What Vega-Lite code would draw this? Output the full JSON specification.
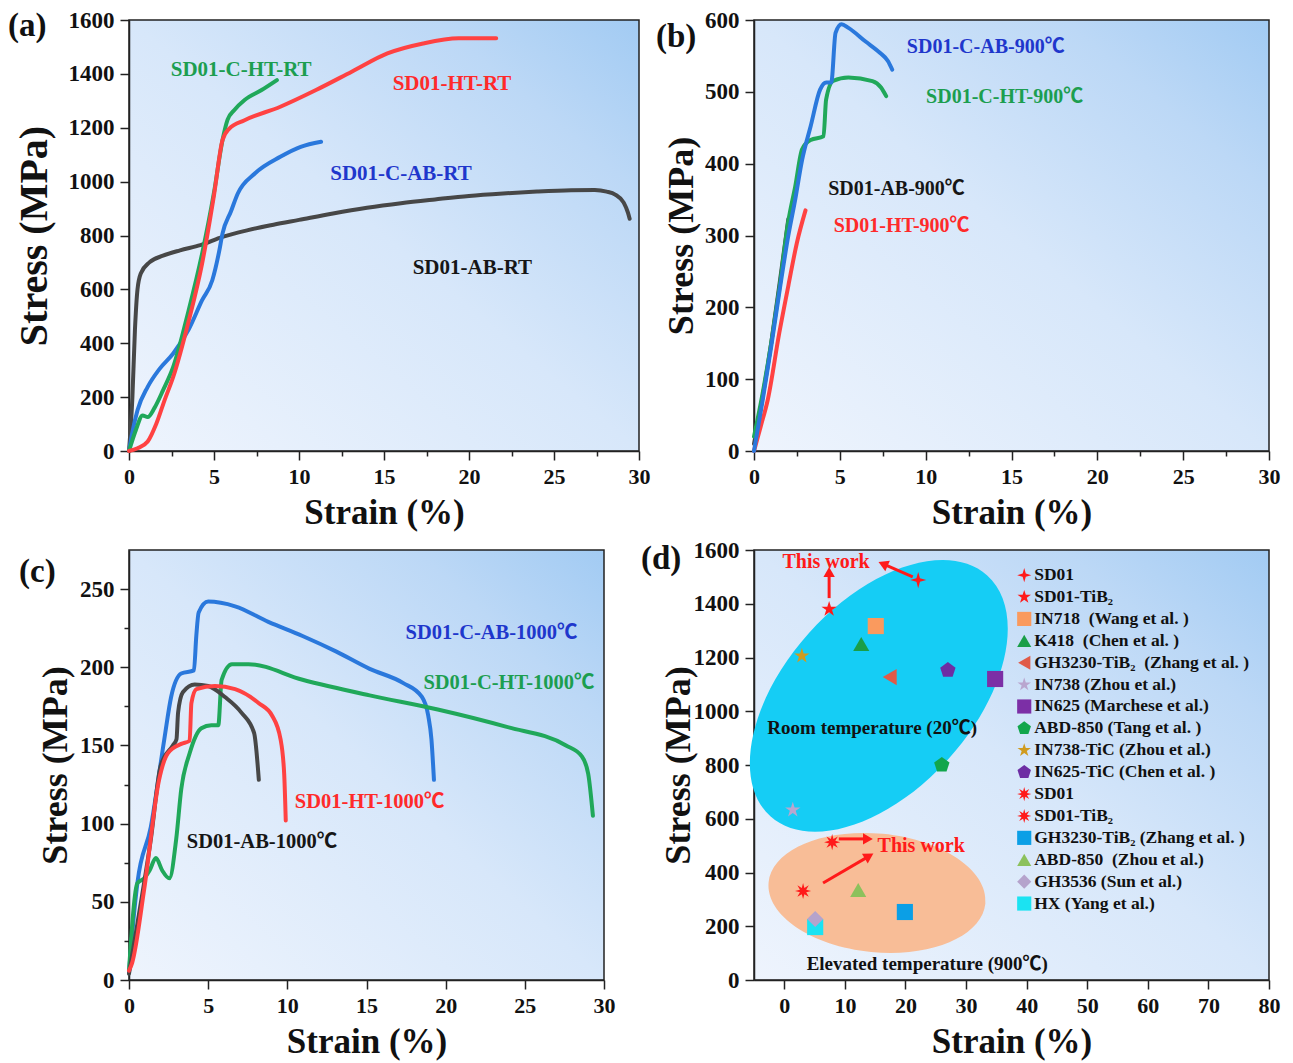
{
  "$schema": "https://vega.github.io/schema/vega-lite/v6.json",
  "padding": {"left": 7, "top": 8, "right": 5, "bottom": 5},
  "background": "white",
  "columns": 2,
  "bounds": "flush",
  "spacing": {"row": 99, "column": 115},
  "datasets": {
    "arrows": [
      {"id": 1, "strain": 7.4, "stress": 1421, "strain2": 7.4, "stress2": 1518},
      {"id": 2, "strain": 21.2, "stress": 1500, "strain2": 16.3, "stress2": 1548},
      {"id": 3, "strain": 9.0, "stress": 525, "strain2": 13.8, "stress2": 525},
      {"id": 4, "strain": 6.4, "stress": 361, "strain2": 14.0, "stress2": 461}
    ],
    "materials": [
      {"m": "SD01", "strain": 22.1, "stress": 1488},
      {"m": "SD01-TiB₂", "strain": 7.4, "stress": 1380},
      {"m": "IN718\u00a0\u00a0(Wang et al. )", "strain": 15.1, "stress": 1317},
      {"m": "K418\u00a0\u00a0(Chen et al. )", "strain": 12.7, "stress": 1250},
      {"m": "GH3230-TiB₂\u00a0\u00a0(Zhang et al. )", "strain": 17.4, "stress": 1127},
      {"m": "IN738 (Zhou et al.)", "strain": 1.4, "stress": 633},
      {"m": "IN625 (Marchese et al.)", "strain": 34.8, "stress": 1120},
      {"m": "ABD-850 (Tang et al. )", "strain": 26.0, "stress": 800},
      {"m": "IN738-TiC (Zhou et al.)", "strain": 2.9, "stress": 1206},
      {"m": "IN625-TiC (Chen et al. )", "strain": 27.0, "stress": 1153},
      {"m": "SD01 ", "strain": 7.9, "stress": 513},
      {"m": "SD01-TiB₂ ", "strain": 3.1, "stress": 331},
      {"m": "GH3230-TiB₂ (Zhang et al. )", "strain": 19.9, "stress": 253},
      {"m": "ABD-850\u00a0\u00a0(Zhou et al.)", "strain": 12.2, "stress": 335},
      {"m": "HX (Yang et al.)", "strain": 5.1, "stress": 197},
      {"m": "GH3536 (Sun et al.)", "strain": 5.1, "stress": 227}
    ]
  },
  "config": {
    "font": "Liberation Serif",
    "view": {"stroke": "#222", "strokeWidth": 1.5},
    "axis": {
      "labelFont": "Liberation Serif", "labelFontSize": 22, "labelFontWeight": "bold", "labelColor": "#111",
      "titleFont": "Liberation Serif", "titleFontSize": 35, "titleFontWeight": "bold", "titleColor": "#111",
      "domainColor": "#222", "domainWidth": 1.5, "tickColor": "#222", "tickWidth": 1.5,
      "grid": false, "labelFlush": false, "labelOverlap": false, "labelPadding": 6
    },
    "axisX": {"titlePadding": 8},
    "axisY": {"titlePadding": 8, "labelFontSize": 23, "titleFontSize": 36},
    "text": {"font": "Liberation Serif, Noto Sans CJK SC", "fontWeight": "bold"}
  },
  "concat": [
    {
      "width": 510, "height": 431,
      "view": {"stroke": "#222", "strokeWidth": 1.5, "fill": {"gradient": "linear", "x1": 0, "y1": 1, "x2": 1, "y2": 0, "stops": [{"offset": 0, "color": "#eef4fd"}, {"offset": 0.5, "color": "#d7e7fa"}, {"offset": 0.8, "color": "#bcd8f6"}, {"offset": 1, "color": "#a2cbf3"}]}},
      "resolve": {"scale": {"color": "independent"}},
      "layer": [
        {
          "data": {"values": [
            {"series": "AB", "strain": 0, "stress": 0}, {"series": "AB", "strain": 0.2, "stress": 200}, {"series": "AB", "strain": 0.35, "stress": 450}, {"series": "AB", "strain": 0.5, "stress": 600}, {"series": "AB", "strain": 0.7, "stress": 660}, {"series": "AB", "strain": 1.2, "stress": 700}, {"series": "AB", "strain": 2, "stress": 725}, {"series": "AB", "strain": 3, "stress": 745}, {"series": "AB", "strain": 4.2, "stress": 764}, {"series": "AB", "strain": 5.5, "stress": 795}, {"series": "AB", "strain": 7, "stress": 820}, {"series": "AB", "strain": 8.5, "stress": 840}, {"series": "AB", "strain": 10, "stress": 858}, {"series": "AB", "strain": 12, "stress": 882}, {"series": "AB", "strain": 14, "stress": 903}, {"series": "AB", "strain": 16, "stress": 920}, {"series": "AB", "strain": 18, "stress": 934}, {"series": "AB", "strain": 20, "stress": 947}, {"series": "AB", "strain": 22, "stress": 956}, {"series": "AB", "strain": 24, "stress": 963}, {"series": "AB", "strain": 26, "stress": 968}, {"series": "AB", "strain": 27.4, "stress": 969}, {"series": "AB", "strain": 28.1, "stress": 963}, {"series": "AB", "strain": 28.6, "stress": 952}, {"series": "AB", "strain": 29.1, "stress": 922}, {"series": "AB", "strain": 29.35, "stress": 885}, {"series": "AB", "strain": 29.45, "stress": 862},
            {"series": "CAB", "strain": 0, "stress": 0}, {"series": "CAB", "strain": 0.2, "stress": 70}, {"series": "CAB", "strain": 0.5, "stress": 151}, {"series": "CAB", "strain": 1.1, "stress": 238}, {"series": "CAB", "strain": 1.8, "stress": 305}, {"series": "CAB", "strain": 2.6, "stress": 362}, {"series": "CAB", "strain": 3.5, "stress": 450}, {"series": "CAB", "strain": 4.3, "stress": 560}, {"series": "CAB", "strain": 4.9, "stress": 634}, {"series": "CAB", "strain": 5.3, "stress": 740}, {"series": "CAB", "strain": 5.5, "stress": 807}, {"series": "CAB", "strain": 6, "stress": 890}, {"series": "CAB", "strain": 6.4, "stress": 956}, {"series": "CAB", "strain": 7.4, "stress": 1030}, {"series": "CAB", "strain": 8.9, "stress": 1092}, {"series": "CAB", "strain": 10.1, "stress": 1129}, {"series": "CAB", "strain": 11.3, "stress": 1148},
            {"series": "CHT", "strain": 0, "stress": 0}, {"series": "CHT", "strain": 0.4, "stress": 77}, {"series": "CHT", "strain": 0.8, "stress": 132}, {"series": "CHT", "strain": 1.1, "stress": 126}, {"series": "CHT", "strain": 1.5, "stress": 160}, {"series": "CHT", "strain": 2, "stress": 225}, {"series": "CHT", "strain": 2.6, "stress": 312}, {"series": "CHT", "strain": 3.5, "stress": 520}, {"series": "CHT", "strain": 4.3, "stress": 733}, {"series": "CHT", "strain": 5, "stress": 960}, {"series": "CHT", "strain": 5.5, "stress": 1154}, {"series": "CHT", "strain": 5.8, "stress": 1230}, {"series": "CHT", "strain": 6.2, "stress": 1266}, {"series": "CHT", "strain": 6.8, "stress": 1303}, {"series": "CHT", "strain": 7.8, "stress": 1340}, {"series": "CHT", "strain": 8.7, "stress": 1377},
            {"series": "HT", "strain": 0, "stress": 0}, {"series": "HT", "strain": 0.5, "stress": 10}, {"series": "HT", "strain": 1.1, "stress": 35}, {"series": "HT", "strain": 1.6, "stress": 100}, {"series": "HT", "strain": 2.1, "stress": 190}, {"series": "HT", "strain": 2.6, "stress": 275}, {"series": "HT", "strain": 3.5, "stress": 480}, {"series": "HT", "strain": 4.3, "stress": 696}, {"series": "HT", "strain": 5, "stress": 950}, {"series": "HT", "strain": 5.5, "stress": 1154}, {"series": "HT", "strain": 5.9, "stress": 1197}, {"series": "HT", "strain": 6.8, "stress": 1228}, {"series": "HT", "strain": 8.9, "stress": 1278}, {"series": "HT", "strain": 11, "stress": 1340}, {"series": "HT", "strain": 13.1, "stress": 1408}, {"series": "HT", "strain": 15.2, "stress": 1476}, {"series": "HT", "strain": 17.3, "stress": 1513}, {"series": "HT", "strain": 19.4, "stress": 1532}, {"series": "HT", "strain": 21.6, "stress": 1532}
          ]},
          "mark": {"type": "line", "strokeWidth": 4, "strokeJoin": "round", "strokeCap": "round", "interpolate": "monotone"},
          "encoding": {
            "x": {"field": "strain", "type": "quantitative", "scale": {"domain": [0, 30], "nice": false, "zero": false},
                  "axis": {"title": "Strain (%)", "format": "d", "values": [0, 2.5, 5, 7.5, 10, 12.5, 15, 17.5, 20, 22.5, 25, 27.5, 30], "labelExpr": "datum.value % 5 === 0 ? datum.label : ''", "tickSize": {"condition": {"test": "datum.value % 5 === 0", "value": 9}, "value": 5}}},
            "y": {"field": "stress", "type": "quantitative", "scale": {"domain": [0, 1600], "nice": false},
                  "axis": {"title": "Stress (MPa)", "titleFontSize": 40, "titlePadding": 14, "format": "d", "values": [0, 100, 200, 300, 400, 500, 600, 700, 800, 900, 1000, 1100, 1200, 1300, 1400, 1500, 1600], "labelExpr": "datum.value % 200 === 0 ? datum.label : ''", "tickSize": {"condition": {"test": "datum.value % 200 === 0", "value": 9}, "value": 5}}},
            "color": {"field": "series", "type": "nominal", "legend": null, "scale": {"domain": ["AB", "CAB", "CHT", "HT"], "range": ["#474747", "#2a78dc", "#20a85a", "#ff4242"]}}
          }
        },
        {
          "data": {"values": [
            {"series": "CHT", "label": "SD01-C-HT-RT", "strain": 6.6, "stress": 1414},
            {"series": "HT", "label": "SD01-HT-RT", "strain": 19.0, "stress": 1362},
            {"series": "CAB", "label": "SD01-C-AB-RT", "strain": 16.0, "stress": 1028},
            {"series": "AB", "label": "SD01-AB-RT", "strain": 20.2, "stress": 679}
          ]},
          "mark": {"type": "text", "fontSize": 21, "fontWeight": "bold", "align": "center", "baseline": "middle"},
          "encoding": {
            "x": {"field": "strain", "type": "quantitative"},
            "y": {"field": "stress", "type": "quantitative"},
            "text": {"field": "label"},
            "color": {"field": "series", "type": "nominal", "legend": null, "scale": {"domain": ["AB", "CAB", "CHT", "HT"], "range": ["#161616", "#1f37cc", "#1c9e50", "#ff2a2a"]}}
          }
        },
        {
          "data": {"values": [{"label": "(a)"}]},
          "mark": {"type": "text", "fontSize": 33, "fontWeight": "bold", "align": "left", "baseline": "middle", "dx": -121, "dy": 6, "color": "#111"},
          "encoding": {"x": {"datum": 0, "type": "quantitative"}, "y": {"datum": 1600, "type": "quantitative"}, "text": {"field": "label"}}
        }
      ]
    },
    {
      "width": 515, "height": 431,
      "view": {"stroke": "#222", "strokeWidth": 1.5, "fill": {"gradient": "linear", "x1": 0, "y1": 1, "x2": 1, "y2": 0, "stops": [{"offset": 0, "color": "#eef4fd"}, {"offset": 0.5, "color": "#d7e7fa"}, {"offset": 0.8, "color": "#bcd8f6"}, {"offset": 1, "color": "#a2cbf3"}]}},
      "resolve": {"scale": {"color": "independent"}},
      "layer": [
        {
          "data": {"values": [
            {"series": "AB", "strain": 0, "stress": 10}, {"series": "AB", "strain": 0.5, "stress": 75}, {"series": "AB", "strain": 1, "stress": 150}, {"series": "AB", "strain": 1.5, "stress": 235}, {"series": "AB", "strain": 2.0, "stress": 323},
            {"series": "HT", "strain": 0, "stress": 0}, {"series": "HT", "strain": 0.4, "stress": 35}, {"series": "HT", "strain": 0.8, "stress": 71}, {"series": "HT", "strain": 1.47, "stress": 164}, {"series": "HT", "strain": 2, "stress": 230}, {"series": "HT", "strain": 2.5, "stress": 290}, {"series": "HT", "strain": 3.0, "stress": 335},
            {"series": "CHT", "strain": 0, "stress": 20}, {"series": "CHT", "strain": 0.5, "stress": 80}, {"series": "CHT", "strain": 1, "stress": 150}, {"series": "CHT", "strain": 1.5, "stress": 230}, {"series": "CHT", "strain": 2, "stress": 320}, {"series": "CHT", "strain": 2.4, "stress": 368}, {"series": "CHT", "strain": 2.8, "stress": 420}, {"series": "CHT", "strain": 3.3, "stress": 433}, {"series": "CHT", "strain": 4.05, "stress": 438}, {"series": "CHT", "strain": 4.2, "stress": 489}, {"series": "CHT", "strain": 4.6, "stress": 515}, {"series": "CHT", "strain": 5.5, "stress": 520}, {"series": "CHT", "strain": 6.9, "stress": 515}, {"series": "CHT", "strain": 7.4, "stress": 506}, {"series": "CHT", "strain": 7.7, "stress": 494},
            {"series": "CAB", "strain": 0, "stress": 0}, {"series": "CAB", "strain": 0.5, "stress": 70}, {"series": "CAB", "strain": 1, "stress": 145}, {"series": "CAB", "strain": 1.5, "stress": 225}, {"series": "CAB", "strain": 2, "stress": 300}, {"series": "CAB", "strain": 2.4, "stress": 350}, {"series": "CAB", "strain": 2.8, "stress": 405}, {"series": "CAB", "strain": 3.3, "stress": 452}, {"series": "CAB", "strain": 3.85, "stress": 503}, {"series": "CAB", "strain": 4.2, "stress": 513}, {"series": "CAB", "strain": 4.5, "stress": 513}, {"series": "CAB", "strain": 4.75, "stress": 582}, {"series": "CAB", "strain": 5.1, "stress": 594}, {"series": "CAB", "strain": 5.5, "stress": 589}, {"series": "CAB", "strain": 6.5, "stress": 570}, {"series": "CAB", "strain": 7.35, "stress": 554}, {"series": "CAB", "strain": 7.8, "stress": 543}, {"series": "CAB", "strain": 8.05, "stress": 531}
          ]},
          "mark": {"type": "line", "strokeWidth": 4, "strokeJoin": "round", "strokeCap": "round", "interpolate": "monotone"},
          "encoding": {
            "x": {"field": "strain", "type": "quantitative", "scale": {"domain": [0, 30], "nice": false, "zero": false},
                  "axis": {"title": "Strain (%)", "format": "d", "values": [0, 2.5, 5, 7.5, 10, 12.5, 15, 17.5, 20, 22.5, 25, 27.5, 30], "labelExpr": "datum.value % 5 === 0 ? datum.label : ''", "tickSize": {"condition": {"test": "datum.value % 5 === 0", "value": 9}, "value": 5}}},
            "y": {"field": "stress", "type": "quantitative", "scale": {"domain": [0, 600], "nice": false},
                  "axis": {"title": "Stress (MPa)", "titlePadding": 4, "format": "d", "values": [0, 50, 100, 150, 200, 250, 300, 350, 400, 450, 500, 550, 600], "labelExpr": "datum.value % 100 === 0 ? datum.label : ''", "tickSize": {"condition": {"test": "datum.value % 100 === 0", "value": 9}, "value": 5}}},
            "color": {"field": "series", "type": "nominal", "legend": null, "scale": {"domain": ["AB", "CAB", "CHT", "HT"], "range": ["#474747", "#2a78dc", "#20a85a", "#ff4242"]}}
          }
        },
        {
          "data": {"values": [
            {"series": "CAB", "label": "SD01-C-AB-900℃", "strain": 13.5, "stress": 562},
            {"series": "CHT", "label": "SD01-C-HT-900℃", "strain": 14.6, "stress": 493},
            {"series": "AB", "label": "SD01-AB-900℃", "strain": 8.3, "stress": 365},
            {"series": "HT", "label": "SD01-HT-900℃", "strain": 8.6, "stress": 313}
          ]},
          "mark": {"type": "text", "fontSize": 20, "fontWeight": "bold", "align": "center", "baseline": "middle"},
          "encoding": {
            "x": {"field": "strain", "type": "quantitative"},
            "y": {"field": "stress", "type": "quantitative"},
            "text": {"field": "label"},
            "color": {"field": "series", "type": "nominal", "legend": null, "scale": {"domain": ["AB", "CAB", "CHT", "HT"], "range": ["#161616", "#1f37cc", "#1c9e50", "#ff2a2a"]}}
          }
        },
        {
          "data": {"values": [{"label": "(b)"}]},
          "mark": {"type": "text", "fontSize": 33, "fontWeight": "bold", "align": "left", "baseline": "middle", "dx": -98, "dy": 17, "color": "#111"},
          "encoding": {"x": {"datum": 0, "type": "quantitative"}, "y": {"datum": 600, "type": "quantitative"}, "text": {"field": "label"}}
        }
      ]
    },
    {
      "width": 475, "height": 430,
      "view": {"stroke": "#222", "strokeWidth": 1.5, "fill": {"gradient": "linear", "x1": 0, "y1": 1, "x2": 1, "y2": 0, "stops": [{"offset": 0, "color": "#eef4fd"}, {"offset": 0.5, "color": "#d7e7fa"}, {"offset": 0.8, "color": "#bcd8f6"}, {"offset": 1, "color": "#a2cbf3"}]}},
      "resolve": {"scale": {"color": "independent"}},
      "layer": [
        {
          "data": {"values": [
            {"series": "CAB", "strain": 0, "stress": 5}, {"series": "CAB", "strain": 0.25, "stress": 35}, {"series": "CAB", "strain": 0.53, "stress": 62}, {"series": "CAB", "strain": 1.38, "stress": 98}, {"series": "CAB", "strain": 2.23, "stress": 154}, {"series": "CAB", "strain": 2.66, "stress": 181}, {"series": "CAB", "strain": 3.3, "stress": 196}, {"series": "CAB", "strain": 4.1, "stress": 198}, {"series": "CAB", "strain": 4.25, "stress": 220}, {"series": "CAB", "strain": 4.4, "stress": 235}, {"series": "CAB", "strain": 5.0, "stress": 242}, {"series": "CAB", "strain": 6.7, "stress": 239}, {"series": "CAB", "strain": 8.8, "stress": 229}, {"series": "CAB", "strain": 10.96, "stress": 220}, {"series": "CAB", "strain": 13.1, "stress": 210}, {"series": "CAB", "strain": 15.2, "stress": 199}, {"series": "CAB", "strain": 17.3, "stress": 190}, {"series": "CAB", "strain": 18.5, "stress": 181}, {"series": "CAB", "strain": 18.9, "stress": 169}, {"series": "CAB", "strain": 19.1, "stress": 154}, {"series": "CAB", "strain": 19.26, "stress": 128},
            {"series": "CHT", "strain": 0, "stress": 6}, {"series": "CHT", "strain": 0.53, "stress": 62}, {"series": "CHT", "strain": 0.96, "stress": 65}, {"series": "CHT", "strain": 1.3, "stress": 70}, {"series": "CHT", "strain": 1.7, "stress": 78}, {"series": "CHT", "strain": 2.1, "stress": 70}, {"series": "CHT", "strain": 2.55, "stress": 65}, {"series": "CHT", "strain": 2.98, "stress": 90}, {"series": "CHT", "strain": 3.3, "stress": 122}, {"series": "CHT", "strain": 3.83, "stress": 145}, {"series": "CHT", "strain": 4.57, "stress": 161}, {"series": "CHT", "strain": 5.2, "stress": 163}, {"series": "CHT", "strain": 5.64, "stress": 163}, {"series": "CHT", "strain": 5.85, "stress": 192}, {"series": "CHT", "strain": 6.5, "stress": 202}, {"series": "CHT", "strain": 7.55, "stress": 202}, {"series": "CHT", "strain": 10.96, "stress": 192}, {"series": "CHT", "strain": 15.2, "stress": 182}, {"series": "CHT", "strain": 19.5, "stress": 173}, {"series": "CHT", "strain": 23.8, "stress": 162}, {"series": "CHT", "strain": 27.6, "stress": 150}, {"series": "CHT", "strain": 28.6, "stress": 143}, {"series": "CHT", "strain": 29.0, "stress": 132}, {"series": "CHT", "strain": 29.3, "stress": 105},
            {"series": "AB", "strain": 0, "stress": 4}, {"series": "AB", "strain": 0.53, "stress": 36}, {"series": "AB", "strain": 1.38, "stress": 90}, {"series": "AB", "strain": 2.0, "stress": 137}, {"series": "AB", "strain": 2.77, "stress": 150}, {"series": "AB", "strain": 3.0, "stress": 154}, {"series": "AB", "strain": 3.1, "stress": 171}, {"series": "AB", "strain": 3.4, "stress": 184}, {"series": "AB", "strain": 4.15, "stress": 189}, {"series": "AB", "strain": 5.0, "stress": 188}, {"series": "AB", "strain": 6.06, "stress": 181}, {"series": "AB", "strain": 7.1, "stress": 171}, {"series": "AB", "strain": 7.9, "stress": 158}, {"series": "AB", "strain": 8.2, "stress": 128},
            {"series": "HT", "strain": 0, "stress": 6}, {"series": "HT", "strain": 0.2, "stress": 11}, {"series": "HT", "strain": 0.96, "stress": 58}, {"series": "HT", "strain": 1.9, "stress": 128}, {"series": "HT", "strain": 2.45, "stress": 145}, {"series": "HT", "strain": 3.3, "stress": 151}, {"series": "HT", "strain": 3.83, "stress": 153}, {"series": "HT", "strain": 3.94, "stress": 177}, {"series": "HT", "strain": 4.26, "stress": 186}, {"series": "HT", "strain": 5.43, "stress": 188}, {"series": "HT", "strain": 6.7, "stress": 186}, {"series": "HT", "strain": 8.2, "stress": 177}, {"series": "HT", "strain": 9.04, "stress": 169}, {"series": "HT", "strain": 9.57, "stress": 154}, {"series": "HT", "strain": 9.8, "stress": 132}, {"series": "HT", "strain": 9.9, "stress": 102}
          ]},
          "mark": {"type": "line", "strokeWidth": 4, "strokeJoin": "round", "strokeCap": "round", "interpolate": "monotone"},
          "encoding": {
            "x": {"field": "strain", "type": "quantitative", "scale": {"domain": [0, 30], "nice": false, "zero": false},
                  "axis": {"title": "Strain (%)", "format": "d", "values": [0, 2.5, 5, 7.5, 10, 12.5, 15, 17.5, 20, 22.5, 25, 27.5, 30], "labelExpr": "datum.value % 5 === 0 ? datum.label : ''", "tickSize": {"condition": {"test": "datum.value % 5 === 0", "value": 9}, "value": 5}}},
            "y": {"field": "stress", "type": "quantitative", "scale": {"domain": [0, 275], "nice": false},
                  "axis": {"title": "Stress (MPa)", "titlePadding": 5, "format": "d", "values": [0, 25, 50, 75, 100, 125, 150, 175, 200, 225, 250], "labelExpr": "datum.value % 50 === 0 ? datum.label : ''", "tickSize": {"condition": {"test": "datum.value % 50 === 0", "value": 9}, "value": 5}}},
            "color": {"field": "series", "type": "nominal", "legend": null, "scale": {"domain": ["AB", "CAB", "CHT", "HT"], "range": ["#474747", "#2a78dc", "#20a85a", "#ff4242"]}}
          }
        },
        {
          "data": {"values": [
            {"series": "CAB", "label": "SD01-C-AB-1000℃", "strain": 22.9, "stress": 222},
            {"series": "CHT", "label": "SD01-C-HT-1000℃", "strain": 24.0, "stress": 190},
            {"series": "HT", "label": "SD01-HT-1000℃", "strain": 15.2, "stress": 114},
            {"series": "AB", "label": "SD01-AB-1000℃", "strain": 8.4, "stress": 88}
          ]},
          "mark": {"type": "text", "fontSize": 20.5, "fontWeight": "bold", "align": "center", "baseline": "middle"},
          "encoding": {
            "x": {"field": "strain", "type": "quantitative"},
            "y": {"field": "stress", "type": "quantitative"},
            "text": {"field": "label"},
            "color": {"field": "series", "type": "nominal", "legend": null, "scale": {"domain": ["AB", "CAB", "CHT", "HT"], "range": ["#161616", "#1f37cc", "#1c9e50", "#ff2a2a"]}}
          }
        },
        {
          "data": {"values": [{"label": "(c)"}]},
          "mark": {"type": "text", "fontSize": 33, "fontWeight": "bold", "align": "left", "baseline": "middle", "dx": -110, "dy": 22, "color": "#111"},
          "encoding": {"x": {"datum": 0, "type": "quantitative"}, "y": {"datum": 275, "type": "quantitative"}, "text": {"field": "label"}}
        }
      ]
    },
    {
      "width": 515, "height": 430,
      "view": {"stroke": "#222", "strokeWidth": 1.5, "fill": {"gradient": "linear", "x1": 0, "y1": 1, "x2": 1, "y2": 0, "stops": [{"offset": 0, "color": "#eef4fd"}, {"offset": 0.5, "color": "#d7e7fa"}, {"offset": 0.8, "color": "#bcd8f6"}, {"offset": 1, "color": "#a2cbf3"}]}},
      "resolve": {"scale": {"y": "independent"}},
      "layer": [
        {
          "layer": [
            {
              "data": {"values": [{"strain": 15.6, "stress": 1057}]},
              "mark": {"type": "point", "shape": "M-1,0A1,0.58,0,1,1,1,0A1,0.58,0,1,1,-1,0Z", "size": 104976, "angle": -48, "filled": true, "color": "#15cdf5", "opacity": 1, "strokeWidth": 0},
              "encoding": {
                "x": {"field": "strain", "type": "quantitative", "scale": {"domain": [-5, 80], "nice": false, "zero": false},
                      "axis": {"title": "Strain (%)", "format": "d", "values": [0, 5, 10, 15, 20, 25, 30, 35, 40, 45, 50, 55, 60, 65, 70, 75, 80], "labelExpr": "datum.value % 10 === 0 ? datum.label : ''", "tickSize": {"condition": {"test": "datum.value % 10 === 0", "value": 9}, "value": 5}}},
                "y": {"field": "stress", "type": "quantitative", "scale": {"domain": [0, 1600], "nice": false},
                      "axis": {"title": "Stress (MPa)", "titlePadding": -4, "format": "d", "values": [0, 100, 200, 300, 400, 500, 600, 700, 800, 900, 1000, 1100, 1200, 1300, 1400, 1500, 1600], "labelExpr": "datum.value % 200 === 0 ? datum.label : ''", "tickSize": {"condition": {"test": "datum.value % 200 === 0", "value": 9}, "value": 5}}}
              }
            },
            {
              "data": {"values": [{"strain": 15.3, "stress": 324}]},
              "mark": {"type": "point", "shape": "M-1,0A1,0.545,0,1,1,1,0A1,0.545,0,1,1,-1,0Z", "size": 47437, "angle": 5.6, "filled": true, "color": "#f8bd97", "opacity": 1, "strokeWidth": 0},
              "encoding": {"x": {"field": "strain", "type": "quantitative"}, "y": {"field": "stress", "type": "quantitative"}}
            },
            {
              "data": {"name": "arrows"},
              "mark": {"type": "rule", "color": "#ff1a1a", "strokeWidth": 3},
              "encoding": {"x": {"field": "strain", "type": "quantitative"}, "y": {"field": "stress", "type": "quantitative"}, "x2": {"field": "strain2"}, "y2": {"field": "stress2"}}
            },
            {
              "data": {"name": "arrows"}, "transform": [{"filter": "datum.id === 1"}],
              "mark": {"type": "point", "shape": "triangle-up", "size": 130, "angle": 0, "filled": true, "color": "#ff1a1a", "opacity": 1},
              "encoding": {"x": {"field": "strain2", "type": "quantitative"}, "y": {"field": "stress2", "type": "quantitative"}}
            },
            {
              "data": {"name": "arrows"}, "transform": [{"filter": "datum.id === 2"}],
              "mark": {"type": "point", "shape": "triangle-up", "size": 130, "angle": -66.5, "filled": true, "color": "#ff1a1a", "opacity": 1},
              "encoding": {"x": {"field": "strain2", "type": "quantitative"}, "y": {"field": "stress2", "type": "quantitative"}}
            },
            {
              "data": {"name": "arrows"}, "transform": [{"filter": "datum.id === 3"}],
              "mark": {"type": "point", "shape": "triangle-up", "size": 130, "angle": 90, "filled": true, "color": "#ff1a1a", "opacity": 1},
              "encoding": {"x": {"field": "strain2", "type": "quantitative"}, "y": {"field": "stress2", "type": "quantitative"}}
            },
            {
              "data": {"name": "arrows"}, "transform": [{"filter": "datum.id === 4"}],
              "mark": {"type": "point", "shape": "triangle-up", "size": 130, "angle": 59.7, "filled": true, "color": "#ff1a1a", "opacity": 1},
              "encoding": {"x": {"field": "strain2", "type": "quantitative"}, "y": {"field": "stress2", "type": "quantitative"}}
            },
            {
              "data": {"name": "materials"},
              "mark": {"type": "point", "filled": true, "size": 260, "opacity": 1, "strokeWidth": 0},
              "encoding": {
                "x": {"field": "strain", "type": "quantitative"},
                "y": {"field": "stress", "type": "quantitative"},
                "color": {"field": "m", "type": "nominal", "legend": null,
                  "scale": {"domain": ["SD01", "SD01-TiB₂", "IN718\u00a0\u00a0(Wang et al. )", "K418\u00a0\u00a0(Chen et al. )", "GH3230-TiB₂\u00a0\u00a0(Zhang et al. )", "IN738 (Zhou et al.)", "IN625 (Marchese et al.)", "ABD-850 (Tang et al. )", "IN738-TiC (Zhou et al.)", "IN625-TiC (Chen et al. )", "SD01 ", "SD01-TiB₂ ", "GH3230-TiB₂ (Zhang et al. )", "ABD-850\u00a0\u00a0(Zhou et al.)", "GH3536 (Sun et al.)", "HX (Yang et al.)"],
                            "range": ["#ff1a1a", "#ff1a1a", "#fa9a5e", "#1a9e48", "#e05a48", "#b9a6cf", "#7c2fa6", "#12a64c", "#d09b1e", "#6d2ea3", "#ff1a1a", "#ff1a1a", "#0b9fe6", "#8cc15c", "#b5a3cc", "#1be3f2"]}},
                "shape": {"field": "m", "type": "nominal", "legend": null,
                  "scale": {"domain": ["SD01", "SD01-TiB₂", "IN718\u00a0\u00a0(Wang et al. )", "K418\u00a0\u00a0(Chen et al. )", "GH3230-TiB₂\u00a0\u00a0(Zhang et al. )", "IN738 (Zhou et al.)", "IN625 (Marchese et al.)", "ABD-850 (Tang et al. )", "IN738-TiC (Zhou et al.)", "IN625-TiC (Chen et al. )", "SD01 ", "SD01-TiB₂ ", "GH3230-TiB₂ (Zhang et al. )", "ABD-850\u00a0\u00a0(Zhou et al.)", "GH3536 (Sun et al.)", "HX (Yang et al.)"],
                            "range": [
                              "M0,-1L0.22,-0.22L1,0L0.22,0.22L0,1L-0.22,0.22L-1,0L-0.22,-0.22Z",
                              "M0,-1L0.225,-0.309L0.951,-0.309L0.363,0.118L0.588,0.809L0,0.382L-0.588,0.809L-0.363,0.118L-0.951,-0.309L-0.225,-0.309Z",
                              "square", "triangle-up", "triangle-left",
                              "M0,-1L0.225,-0.309L0.951,-0.309L0.363,0.118L0.588,0.809L0,0.382L-0.588,0.809L-0.363,0.118L-0.951,-0.309L-0.225,-0.309Z",
                              "square",
                              "M0,-1L0.951,-0.309L0.588,0.809L-0.588,0.809L-0.951,-0.309Z",
                              "M0,-1L0.225,-0.309L0.951,-0.309L0.363,0.118L0.588,0.809L0,0.382L-0.588,0.809L-0.363,0.118L-0.951,-0.309L-0.225,-0.309Z",
                              "M0,-1L0.951,-0.309L0.588,0.809L-0.588,0.809L-0.951,-0.309Z",
                              "M0,-1L0.161,-0.388L0.707,-0.707L0.388,-0.161L1,0L0.388,0.161L0.707,0.707L0.161,0.388L0,1L-0.161,0.388L-0.707,0.707L-0.388,0.161L-1,0L-0.388,-0.161L-0.707,-0.707L-0.161,-0.388Z",
                              "M0,-1L0.161,-0.388L0.707,-0.707L0.388,-0.161L1,0L0.388,0.161L0.707,0.707L0.161,0.388L0,1L-0.161,0.388L-0.707,0.707L-0.388,0.161L-1,0L-0.388,-0.161L-0.707,-0.707L-0.161,-0.388Z",
                              "square", "triangle-up", "diamond", "square"]}}
              }
            },
            {
              "data": {"values": [
                {"label": "This work", "strain": 6.9, "stress": 1555},
                {"label": "This work", "strain": 22.6, "stress": 499}
              ]},
              "mark": {"type": "text", "fontSize": 20, "fontWeight": "bold", "color": "#ff1a1a", "align": "center", "baseline": "middle"},
              "encoding": {"x": {"field": "strain", "type": "quantitative"}, "y": {"field": "stress", "type": "quantitative"}, "text": {"field": "label"}}
            },
            {
              "data": {"values": [
                {"label": "Room temperature (20℃)", "strain": 14.5, "stress": 938},
                {"label": "Elevated temperature (900℃)", "strain": 23.6, "stress": 60}
              ]},
              "mark": {"type": "text", "fontSize": 19, "fontWeight": "bold", "color": "#111", "align": "center", "baseline": "middle"},
              "encoding": {"x": {"field": "strain", "type": "quantitative"}, "y": {"field": "stress", "type": "quantitative"}, "text": {"field": "label"}}
            },
            {
              "data": {"values": [{"label": "(d)"}]},
              "mark": {"type": "text", "fontSize": 33, "fontWeight": "bold", "align": "left", "baseline": "middle", "dx": -113, "dy": 9, "color": "#111"},
              "encoding": {"x": {"datum": -5, "type": "quantitative"}, "y": {"datum": 1600, "type": "quantitative"}, "text": {"field": "label"}}
            }
          ]
        },
        {
          "data": {"name": "materials"},
          "encoding": {
            "y": {"field": "m", "type": "nominal", "axis": null, "sort": null,
                  "scale": {"type": "point", "padding": 0.82, "align": 0.7,
                            "domain": ["SD01", "SD01-TiB₂", "IN718\u00a0\u00a0(Wang et al. )", "K418\u00a0\u00a0(Chen et al. )", "GH3230-TiB₂\u00a0\u00a0(Zhang et al. )", "IN738 (Zhou et al.)", "IN625 (Marchese et al.)", "ABD-850 (Tang et al. )", "IN738-TiC (Zhou et al.)", "IN625-TiC (Chen et al. )", "SD01 ", "SD01-TiB₂ ", "GH3230-TiB₂ (Zhang et al. )", "ABD-850\u00a0\u00a0(Zhou et al.)", "GH3536 (Sun et al.)", "HX (Yang et al.)", "_pad1", "_pad2", "_pad3"]}}
          },
          "layer": [
            {
              "mark": {"type": "point", "filled": true, "size": 200, "opacity": 1, "strokeWidth": 0},
              "encoding": {
                "x": {"datum": 39.6, "type": "quantitative"},
                "color": {"field": "m", "type": "nominal", "legend": null},
                "shape": {"field": "m", "type": "nominal", "legend": null}
              }
            },
            {
              "mark": {"type": "text", "fontSize": 17.5, "fontWeight": "bold", "color": "#111", "align": "left", "baseline": "middle", "dx": 10},
              "encoding": {
                "x": {"datum": 39.6, "type": "quantitative"},
                "text": {"field": "m"}
              }
            }
          ]
        }
      ]
    }
  ]
}
